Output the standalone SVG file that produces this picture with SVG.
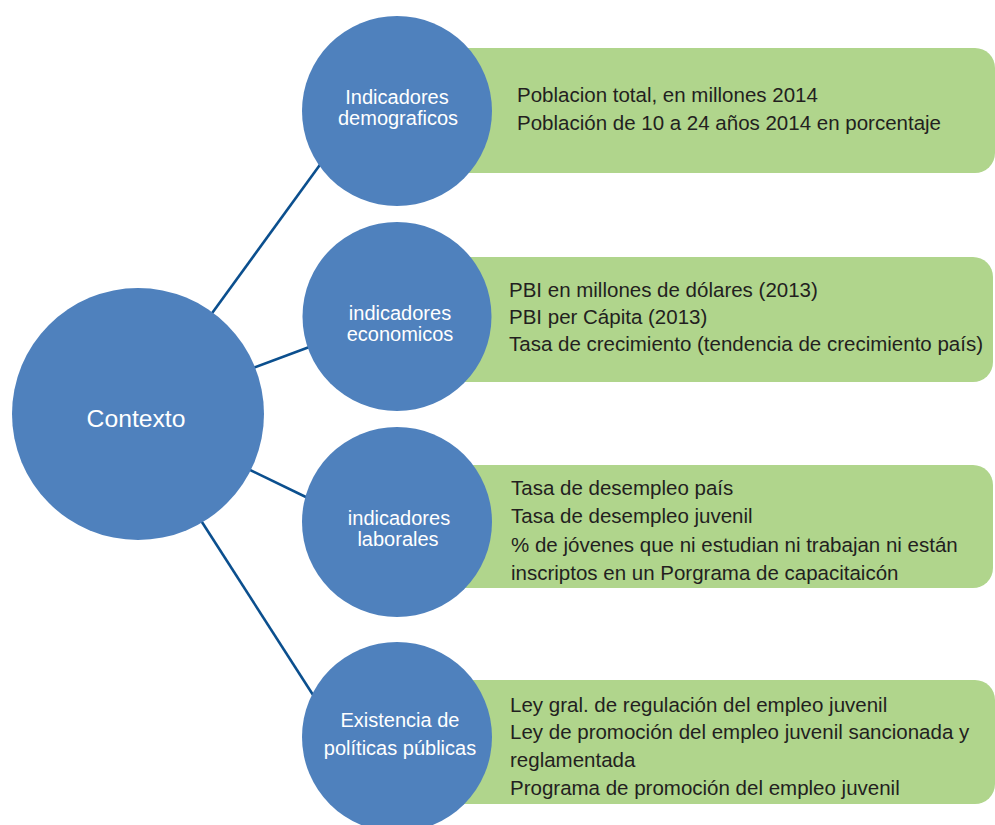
<svg xmlns="http://www.w3.org/2000/svg" width="995" height="825" viewBox="0 0 995 825">
  <style>
    .box { fill: #b0d58c; }
    .circ { fill: #4f81bd; }
    .conn { stroke: #0b4f8e; stroke-width: 2.6; fill: none; }
    .bt { font-family: "Liberation Sans", Arial, sans-serif; font-size: 20.5px; fill: #231f20; }
    .ct { font-family: "Liberation Sans", Arial, sans-serif; font-size: 20px; fill: #ffffff; text-anchor: middle; }
  </style>
  <rect width="995" height="825" fill="#ffffff"/>

  <g id="box-demograficos">
    <path class="box" d="M440 48 H975 A20 20 0 0 1 995 68 V153 A20 20 0 0 1 975 173 H440 Z"/>
    <text class="bt" x="517" y="102">Poblacion total, en millones 2014</text>
    <text class="bt" x="517" y="130">Población de 10 a 24 años 2014 en porcentaje</text>
  </g>
  <g id="box-economicos">
    <path class="box" d="M440 257 H973 A20 20 0 0 1 993 277 V362 A20 20 0 0 1 973 382 H440 Z"/>
    <text class="bt" x="509" y="297">PBI en millones de dólares (2013)</text>
    <text class="bt" x="509" y="324">PBI per Cápita (2013)</text>
    <text class="bt" x="509" y="351">Tasa de crecimiento (tendencia de crecimiento país)</text>
  </g>
  <g id="box-laborales">
    <path class="box" d="M440 465 H973 A20 20 0 0 1 993 485 V568 A20 20 0 0 1 973 588 H440 Z"/>
    <text class="bt" x="511" y="495">Tasa de desempleo país</text>
    <text class="bt" x="511" y="523">Tasa de desempleo juvenil</text>
    <text class="bt" x="511" y="552">% de jóvenes que ni estudian ni trabajan ni están</text>
    <text class="bt" x="511" y="580">inscriptos en un Porgrama de capacitaicón</text>
  </g>
  <g id="box-politicas">
    <path class="box" d="M440 680 H975 A20 20 0 0 1 995 700 V784 A20 20 0 0 1 975 804 H440 Z"/>
    <text class="bt" x="510" y="712">Ley gral. de regulación del empleo juvenil</text>
    <text class="bt" x="510" y="739">Ley de promoción del empleo juvenil sancionada y</text>
    <text class="bt" x="510" y="767">reglamentada</text>
    <text class="bt" x="510" y="795">Programa de promoción del empleo juvenil</text>
  </g>

  <g id="connectors">
    <line class="conn" x1="210" y1="316" x2="322" y2="162"/>
    <line class="conn" x1="250" y1="369" x2="312" y2="346"/>
    <line class="conn" x1="246" y1="468" x2="310" y2="499"/>
    <line class="conn" x1="200" y1="519" x2="315" y2="698"/>
  </g>

  <g id="node-demograficos">
    <circle class="circ" cx="397" cy="111" r="95"/>
    <text class="ct" x="397" y="104">Indicadores</text>
    <text class="ct" x="398" y="125">demograficos</text>
  </g>
  <g id="node-economicos">
    <circle class="circ" cx="397" cy="316.5" r="94.5"/>
    <text class="ct" x="400" y="320">indicadores</text>
    <text class="ct" x="400" y="341">economicos</text>
  </g>
  <g id="node-laborales">
    <circle class="circ" cx="397" cy="522" r="95"/>
    <text class="ct" x="399" y="525">indicadores</text>
    <text class="ct" x="398" y="546">laborales</text>
  </g>
  <g id="node-politicas">
    <circle class="circ" cx="397" cy="737" r="95"/>
    <text class="ct" x="400" y="727">Existencia de</text>
    <text class="ct" x="400" y="755">políticas públicas</text>
  </g>
  <g id="node-contexto">
    <circle class="circ" cx="138" cy="414" r="126"/>
    <text class="ct" x="136" y="427" style="font-size:24.7px">Contexto</text>
  </g>
</svg>
